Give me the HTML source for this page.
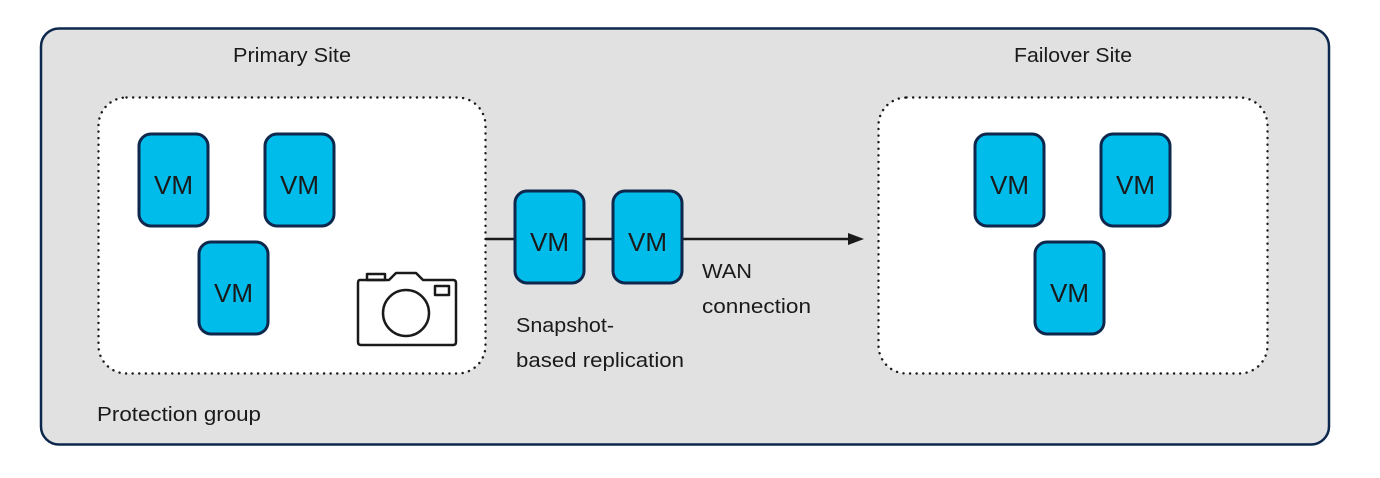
<!DOCTYPE html>
<html><head><meta charset="utf-8"><style>
html,body{margin:0;padding:0;background:#fff;}
svg{display:block;}
text{font-family:"Liberation Sans",sans-serif;fill:#1a1a1a;}
</style></head><body>
<svg width="1380" height="478" viewBox="0 0 1380 478" xmlns="http://www.w3.org/2000/svg">
<rect x="41" y="28.5" width="1288" height="416" rx="18" fill="#e1e1e1" stroke="#0d274d" stroke-width="2.5"/>
<rect x="98.5" y="97.5" width="387" height="276" rx="28" fill="#fff" stroke="#1a1a1a" stroke-width="2.4" stroke-dasharray="0.1 6.5" stroke-linecap="round"/>
<rect x="878.5" y="97.5" width="389" height="276" rx="28" fill="#fff" stroke="#1a1a1a" stroke-width="2.4" stroke-dasharray="0.1 6.5" stroke-linecap="round"/>
<text x="233" y="62" font-size="20" textLength="118" lengthAdjust="spacingAndGlyphs">Primary Site</text>
<text x="1014" y="62" font-size="20" textLength="118" lengthAdjust="spacingAndGlyphs">Failover Site</text>
<text x="97" y="421" font-size="20" textLength="164" lengthAdjust="spacingAndGlyphs">Protection group</text>
<text x="516" y="332" font-size="20" textLength="98" lengthAdjust="spacingAndGlyphs">Snapshot-</text>
<text x="516" y="367" font-size="20" textLength="168" lengthAdjust="spacingAndGlyphs">based replication</text>
<text x="702" y="278" font-size="20" textLength="50" lengthAdjust="spacingAndGlyphs">WAN</text>
<text x="702" y="313" font-size="20" textLength="109" lengthAdjust="spacingAndGlyphs">connection</text>
<line x1="486" y1="239" x2="850" y2="239" stroke="#1a1a1a" stroke-width="2.5"/>
<polygon points="864,239 848,233 848,245" fill="#1a1a1a"/>
<g stroke="#0d274d" stroke-width="3" fill="#00bceb">
<rect x="139" y="134" width="69" height="92" rx="12"/>
<rect x="265" y="134" width="69" height="92" rx="12"/>
<rect x="199" y="242" width="69" height="92" rx="12"/>
<rect x="515" y="191" width="69" height="92" rx="12"/>
<rect x="613" y="191" width="69" height="92" rx="12"/>
<rect x="975" y="134" width="69" height="92" rx="12"/>
<rect x="1101" y="134" width="69" height="92" rx="12"/>
<rect x="1035" y="242" width="69" height="92" rx="12"/>
</g>
<g font-size="26" text-anchor="middle">
<text x="173.5" y="194">VM</text>
<text x="299.5" y="194">VM</text>
<text x="233.5" y="302">VM</text>
<text x="549.5" y="251">VM</text>
<text x="647.5" y="251">VM</text>
<text x="1009.5" y="194">VM</text>
<text x="1135.5" y="194">VM</text>
<text x="1069.5" y="302">VM</text>
</g>
<g fill="none" stroke="#1a1a1a" stroke-width="2.5" stroke-linejoin="round">
<path d="M360 280 Q358 280 358 283 L358 342 Q358 345 361 345 L453 345 Q456 345 456 342 L456 283 Q456 280 453 280 L423 280 L416 273 L396 273 L389 280 Z"/>
<rect x="367" y="274" width="18" height="6"/>
<rect x="435" y="286" width="14" height="9"/>
<circle cx="406" cy="313" r="23"/>
</g>
</svg>
</body></html>
